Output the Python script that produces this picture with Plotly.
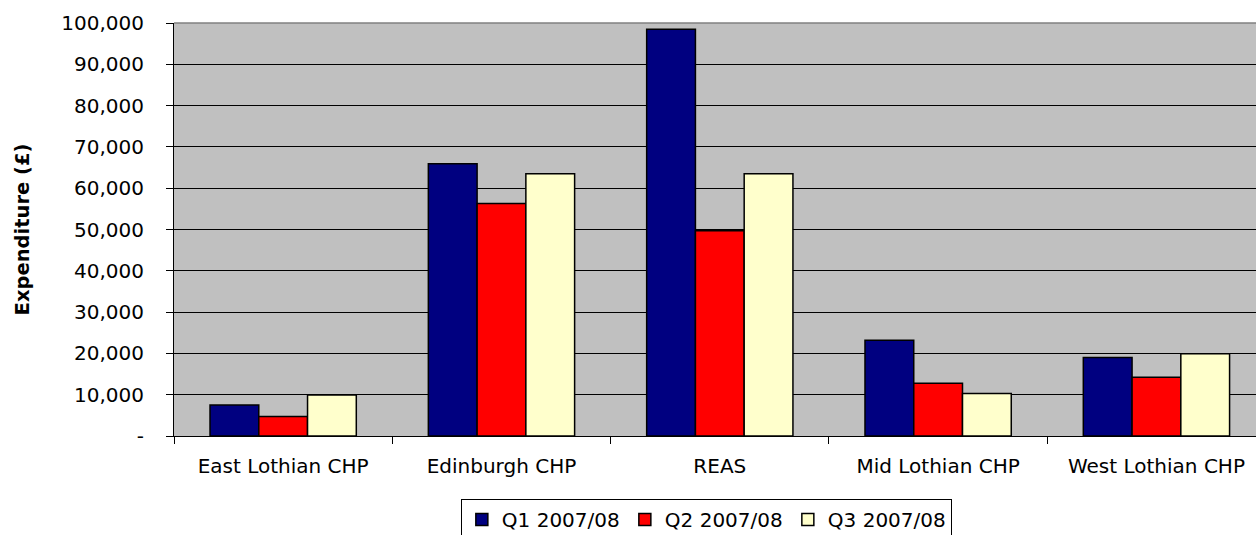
import plotly.graph_objects as go

categories = ["East Lothian CHP", "Edinburgh CHP", "REAS", "Mid Lothian CHP", "West Lothian CHP"]
q1_values = [7500, 65900, 98500, 23200, 19000]
q2_values = [4700, 56300, 49700, 12800, 14200]
q3_values = [9900, 63500, 63500, 10300, 19900]
series_names = ["Q1 2007/08", "Q2 2007/08", "Q3 2007/08"]
series_colors = ["#000080", "#FF0000", "#FFFFCC"]
y_tick_values = [0, 10000, 20000, 30000, 40000, 50000, 60000, 70000, 80000, 90000, 100000]
y_tick_labels = ["-", "10,000", "20,000", "30,000", "40,000", "50,000",
                 "60,000", "70,000", "80,000", "90,000", "100,000"]

FONT = "DejaVu Sans"

fig = go.Figure()
for name, vals, col in zip(series_names, [q1_values, q2_values, q3_values], series_colors):
    fig.add_trace(go.Bar(
        x=categories, y=vals, name=name,
        marker=dict(color=col, line=dict(color="black", width=1.5)),
    ))

fig.update_layout(
    width=1256, height=535,
    margin=dict(l=174, r=0, t=23, b=99, autoexpand=False),
    paper_bgcolor="white",
    plot_bgcolor="#C0C0C0",
    barmode="group",
    bargap=0.33,
    bargroupgap=0,
    font=dict(family=FONT, size=20, color="black"),
    showlegend=True,
    legend=dict(
        orientation="h",
        x=0.492, xanchor="center",
        y=-0.1525, yanchor="top",
        bgcolor="white",
        bordercolor="black",
        borderwidth=1,
        font=dict(family=FONT, size=20, color="black"),
        itemclick=False,
        entrywidth=118,
        entrywidthmode="pixels",
        tracegroupgap=0,
    ),
    xaxis=dict(
        range=[-0.5, 4.456],
        automargin=False,
        showgrid=False,
        showline=True, linecolor="black", linewidth=1,
        ticks="outside", ticklen=7, tickcolor="black", tickwidth=1,
        tickson="boundaries",
        tickfont=dict(family=FONT, size=20, color="black"),
        ticklabelstandoff=12,
    ),
    yaxis=dict(
        range=[0, 100000],
        automargin=False,
        tickmode="array",
        tickvals=y_tick_values,
        ticktext=y_tick_labels,
        showgrid=True, gridcolor="black", gridwidth=1,
        showline=True, linecolor="black", linewidth=1,
        zeroline=False,
        ticks="outside", ticklen=7, tickcolor="black", tickwidth=1,
        tickfont=dict(family=FONT, size=20, color="black"),
        ticklabelstandoff=18,
        title=dict(text="<b>Expenditure (£)</b>",
                   font=dict(family=FONT, size=19.5, color="black"),
                   standoff=26),
    ),
    shapes=[dict(type="line", xref="paper", yref="paper", x0=0, x1=1, y0=1, y1=1,
                 line=dict(color="#808080", width=1.5))],
)

fig.write_html("out.html")
